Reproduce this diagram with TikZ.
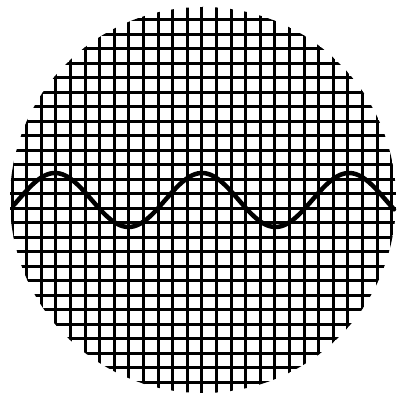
\documentclass[tikz,border=0pt]{standalone}
\usepackage{tikz}
\begin{document}
\begin{tikzpicture}[x=1pt, y=1pt]
% Size of the picture
\useasboundingbox (0,0) rectangle (397,401);

% Grid inside the round screen
\begin{scope}
\clip (203,201) circle (193);
\foreach \i in {0,...,26}
  \draw[line width=3pt] ({12+14.6*\i},0) -- ({12+14.6*\i},401);
\foreach \j in {0,...,27}
  \draw[line width=3pt] (0,{395.5-14.5*\j}) -- (397,{395.5-14.5*\j});
\end{scope}

% The wave
\draw[line width=4.5pt, line cap=round] plot[domain=14:394, samples=150, smooth] ({\x}, {201+27*cos(((\x-55)/147)*360)});
\end{tikzpicture}
\end{document}
